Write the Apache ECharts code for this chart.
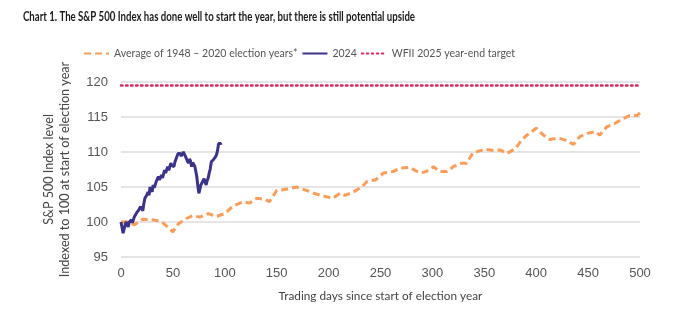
<!DOCTYPE html>
<html>
<head>
<meta charset="utf-8">
<script src="https://cdn.jsdelivr.net/npm/echarts@6/dist/echarts.min.js"></script>
<style>
  html, body { margin: 0; padding: 0; background: #fff; }
  #chart { width: 695px; height: 320px; }
</style>
</head>
<body>
<div id="chart"></div>
<script>
  // average path of election years, [trading day, index]
  var avgElection = [
    [0, 100.0], [5, 100.05], [13, 99.6], [21, 100.4], [31, 100.3], [39, 100.05], [45, 99.3], [50, 98.6],
    [55, 99.7], [63, 100.5], [69, 100.9], [76, 100.7], [84, 101.2], [92, 100.8], [100, 101.2], [108, 102.3],
    [118, 102.9], [124, 102.7], [131, 103.4], [139, 103.2], [143, 102.9], [150, 104.5], [160, 104.7],
    [169, 105.0], [177, 104.6], [188, 104.0], [198, 103.6], [204, 103.4], [211, 104.1], [216, 103.8],
    [224, 104.3], [232, 105.0], [237, 105.8], [245, 106.0], [253, 107.0], [262, 107.2], [269, 107.7],
    [278, 107.8], [288, 107.0], [294, 107.2], [301, 107.9], [307, 107.2], [314, 107.2], [320, 107.9],
    [328, 108.4], [333, 108.4], [339, 109.9], [351, 110.4], [359, 110.2], [365, 110.3], [372, 109.8],
    [380, 110.5], [386, 111.7], [391, 112.4], [400, 113.4], [407, 112.4], [413, 111.8], [421, 112.0],
    [428, 111.7], [436, 111.1], [442, 112.2], [450, 112.7], [457, 112.9], [461, 112.4], [468, 113.6],
    [476, 114.1], [484, 114.8], [490, 115.2], [497, 115.2], [500, 115.6]
  ]
  // 2024 so far
  var year2024 = [
    [0, 100.0], [1, 99.2], [2, 98.4], [3, 98.6], [4, 99.6], [5, 100.0], [6, 99.7], [7, 99.3], [8, 100.0],
    [10, 100.3], [11, 99.9], [12, 99.8], [13, 100.8], [15, 101.3], [17, 101.7], [19, 102.2], [20, 102.4],
    [21, 101.6], [22, 102.6], [23, 103.4], [25, 103.9], [26, 104.3], [27, 103.8], [28, 105.0], [29, 104.6],
    [30, 104.3], [31, 105.3], [32, 104.9], [33, 104.8], [34, 105.8], [35, 105.6], [36, 106.5], [37, 106.0],
    [38, 105.8], [39, 106.7], [40, 106.3], [41, 106.1], [42, 107.4], [43, 107.0], [44, 107.1], [45, 107.9],
    [46, 107.4], [47, 107.6], [48, 108.4], [49, 108.1], [50, 108.2], [51, 107.9], [52, 108.6], [53, 109.0],
    [55, 109.8], [56, 109.7], [57, 109.8], [58, 109.4], [59, 109.6], [60, 110.0], [61, 109.9], [62, 109.4],
    [63, 109.2], [64, 108.7], [65, 108.4], [66, 109.0], [67, 108.7], [68, 107.9], [69, 108.5], [70, 108.7],
    [71, 108.0], [72, 107.3], [73, 106.5], [74, 105.2], [75, 104.1], [76, 104.7], [77, 105.3], [78, 105.6],
    [79, 105.8], [80, 106.2], [81, 105.7], [82, 105.3], [83, 105.9], [84, 106.3], [85, 107.0], [86, 107.6],
    [87, 108.6], [88, 108.8], [89, 108.9], [90, 109.1], [91, 109.3], [92, 109.6], [93, 110.2], [94, 111.2],
    [95, 111.0], [96, 111.2], [97, 111.3]
  ]
  var targetLevel = 119.5
  var targetSpan = [0, 500]
  var seriesNames = ['Average of 1948 – 2020 election years*', '2024', 'WFII 2025 year-end target']

  var titleText = 'Chart 1. The S&P 500 Index has done well to start the year, but there is still potential upside'
  var xName = 'Trading days since start of election year'
  var yName1 = 'S&P 500 Index level'
  var yName2 = 'Indexed to 100 at start of election year'

  // the original uses a condensed face; squeeze the title sideways to the width it has there
  var font = 'Lato, "Liberation Sans", sans-serif'
  var ctx = document.createElement('canvas').getContext('2d')
  function textWidth(text, weight, size) {
    ctx.font = weight + ' ' + size + 'px ' + font
    return ctx.measureText(text).width
  }
  var titleSize = 12.5
  var titleScale = 392 / textWidth(titleText, 'bold', titleSize)
  var xNameSize = Math.round(10 * 12 * 204 / textWidth(xName, 'normal', 12)) / 10
  var yNameSize = Math.round(10 * 12 * 215 / textWidth(yName2, 'normal', 12)) / 10

  var chart = echarts.init(document.getElementById('chart'))
  chart.setOption({
    animation: false,
    graphic: [{
      type: 'text',
      x: 23,
      y: 10,
      scaleX: titleScale,
      style: {
        text: titleText,
        font: 'bold ' + titleSize + 'px ' + font,
        fill: '#1a1a1a'
      }
    }],
    legend: {
      data: seriesNames,
      left: 78,
      top: 43,
      itemWidth: 25,
      itemHeight: 10,
      itemGap: 4,
      itemStyle: { opacity: 0 },
      textStyle: { fontFamily: font, fontSize: 10.5, color: '#555' }
    },
    grid: { left: 121, right: 55, top: 82, bottom: 63 },
    xAxis: {
      type: 'value',
      min: 0,
      max: 500,
      interval: 50,
      name: xName,
      nameLocation: 'middle',
      nameGap: 33,
      nameTextStyle: { fontFamily: font, fontSize: xNameSize, color: '#444' },
      axisLine: { show: false },
      axisTick: { show: false },
      splitLine: { show: false },
      axisLabel: { fontFamily: '"Liberation Sans", sans-serif', fontSize: 13, color: '#555', margin: 10 }
    },
    yAxis: {
      type: 'value',
      min: 95,
      max: 120,
      interval: 5,
      name: yName1 + '\n' + yName2,
      nameLocation: 'middle',
      nameGap: 48,
      nameTextStyle: { fontFamily: font, fontSize: yNameSize, color: '#444', lineHeight: 16 },
      axisLine: { show: false },
      axisTick: { show: false },
      splitLine: { lineStyle: { color: '#dcdcdc', width: 1.5 } },
      axisLabel: { fontFamily: '"Liberation Sans", sans-serif', fontSize: 13, color: '#555', margin: 13 }
    },
    series: [
      {
        name: seriesNames[0],
        type: 'line',
        data: avgElection,
        symbol: 'none',
        itemStyle: { color: '#f99d5a' },
        lineStyle: { color: '#f99d5a', width: 3, type: [7, 4] },
        z: 2
      },
      {
        name: seriesNames[1],
        type: 'line',
        data: year2024,
        symbol: 'none',
        itemStyle: { color: '#3b3388' },
        lineStyle: { color: '#3b3388', width: 3 },
        z: 3
      },
      {
        name: seriesNames[2],
        type: 'line',
        data: [[targetSpan[0], targetLevel], [targetSpan[1], targetLevel]],
        symbol: 'none',
        itemStyle: { color: '#d42a5c' },
        lineStyle: { color: '#d42a5c', width: 2.5, type: [1.5, 3.5], cap: 'round' },
        z: 2
      }
    ]
  })
</script>
</body>
</html>
